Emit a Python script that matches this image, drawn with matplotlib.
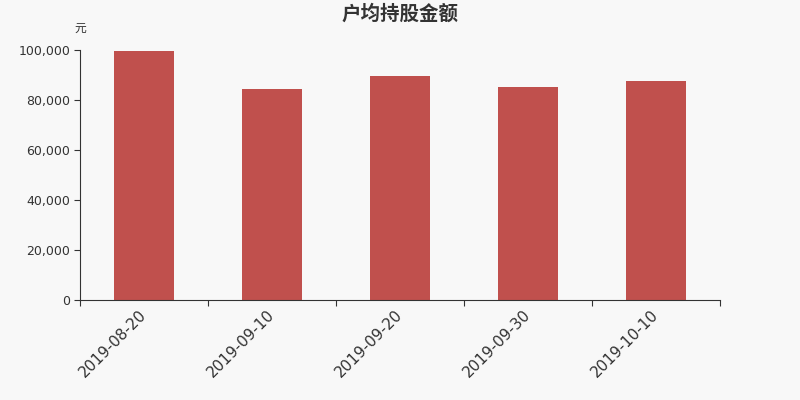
import matplotlib.pyplot as plt

plt.rcParams['font.family'] = ['DejaVu Sans', 'Noto Sans CJK SC']

# datos
fechas = ['2019-08-20', '2019-09-10', '2019-09-20', '2019-09-30', '2019-10-10']
valores = [99720, 84380, 89580, 85300, 87580]

fig = plt.figure(figsize=(8, 4), dpi=100, facecolor='#f8f8f8')
ax = fig.add_axes([0.1, 0.25, 0.8, 0.625])
ax.set_facecolor('#f8f8f8')

posiciones = range(len(fechas))
ax.bar(posiciones, valores, width=0.47, color='#c0504d')

ax.set_xlim(-0.5, len(fechas) - 0.5)
ax.set_ylim(0, 100000)
ax.set_yticks(range(0, 100001, 20000))
ax.set_yticklabels(['{:,}'.format(v) for v in range(0, 100001, 20000)], fontsize=9, color='#333333')

# ticks en los bordes de las categorias
ax.set_xticks([p - 0.5 for p in range(len(fechas) + 1)])
ax.set_xticklabels([])
ax.set_xticks(list(posiciones), minor=True)
ax.set_xticklabels(fechas, minor=True, rotation=45, ha='right', va='center',
                   rotation_mode='anchor', fontsize=11, color='#333333')
ax.tick_params(axis='x', which='minor', length=0, pad=9)
ax.tick_params(axis='x', which='major', length=4, color='#333333')
ax.tick_params(axis='y', length=4, color='#333333', pad=3)

for lado in ['top', 'right']:
    ax.spines[lado].set_visible(False)
ax.spines['left'].set_color('#333333')
ax.spines['bottom'].set_color('#333333')

fig.text(0.5, 0.965, '户均持股金额', ha='center', va='center', fontsize=14,
         fontweight='bold', color='#333333', family=['Noto Sans CJK SC', 'DejaVu Sans'])
fig.text(0.1, 0.93, '元', ha='center', va='center', fontsize=8.5, color='#333333',
         family=['Noto Sans CJK SC', 'DejaVu Sans'])

fig.savefig('out.png', dpi=100, facecolor=fig.get_facecolor())
